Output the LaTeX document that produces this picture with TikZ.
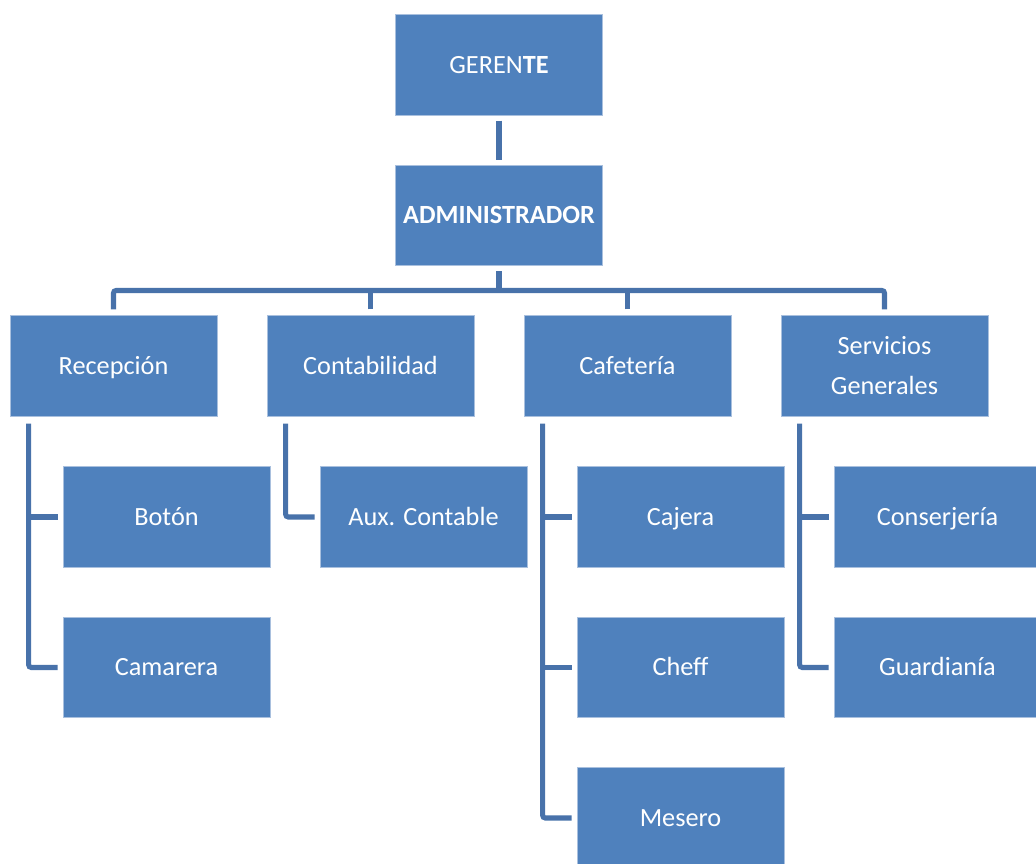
\documentclass[tikz,border=0pt]{standalone}
\usepackage{fontspec}
\setmainfont{Carlito}
\usetikzlibrary{calc}
\definecolor{boxblue}{HTML}{4F81BD}
\definecolor{edgeblue}{HTML}{A9C0DE}
\definecolor{lineblue}{HTML}{4872AA}
\tikzset{
  orgbox/.style={rectangle, fill=boxblue, draw=edgeblue, line width=0.5pt,
    minimum width=155.25pt, minimum height=75.3pt, inner sep=0pt,
    text=white, align=center, font=\fontsize{19.7}{30}\selectfont},
  oneline/.style={orgbox, text height=16.75pt, text depth=4.06pt},
  conn/.style={draw=lineblue, line width=3.8pt, rounded corners=2pt}
}
\begin{document}
\begin{tikzpicture}[x=0.75pt, y=-0.75pt]
\useasboundingbox (0,0) rectangle (1036,864);
\clip (0,0) rectangle (1036,864);
\fill[white] (0,0) rectangle (1036,864);
% top
\node[oneline] (ger) at (499,65) {GEREN\textbf{TE}};
\node[oneline] (adm) at (499,215.5) {\textbf{ADMINISTRADOR}};
% level 2
\node[oneline] (rec) at (113.5,366) {Recepción};
\node[oneline] (con) at (370.5,366) {Contabilidad};
\node[oneline] (caf) at (627.5,366) {Cafetería};
\node[orgbox] (srv) at (884.5,366) {Servicios\\Generales};
% level 3
\node[oneline] (bot) at (166.5,517) {Botón};
\node[oneline] (cam) at (166.5,667.5) {Camarera};
\node[oneline] (aux) at (423.5,517) {Aux. Contable};
\node[oneline] (caj) at (680.5,517) {Cajera};
\node[oneline] (che) at (680.5,667.5) {Cheff};
\node[oneline] (mes) at (680.5,818) {Mesero};
\node[oneline] (cns) at (937.5,517) {Conserjería};
\node[oneline] (gua) at (937.5,667.5) {Guardianía};
% connectors top
\draw[conn] ($(ger.south)+(0,5)$) -- ($(adm.north)+(0,-5)$);
\draw[conn] ($(adm.south)+(0,5)$) -- ++(0,20);
\draw[conn] ($(rec.north)+(0,-6)$) -- ++(0,-19) -| ($(srv.north)+(0,-6)$);
\draw[conn] ($(con.north)+(0,-6)$) -- ++(0,-19);
\draw[conn] ($(caf.north)+(0,-6)$) -- ++(0,-19);
% Recepcion
\draw[conn] ($(rec.south west)+(19,7)$) |- ($(cam.west)+(-5,0)$);
\draw[conn] ($(bot.west)+(-5,0)$) -- ++(-29,0);
% Contabilidad
\draw[conn] ($(con.south west)+(19,7)$) |- ($(aux.west)+(-5,0)$);
% Cafeteria
\draw[conn] ($(caf.south west)+(19,7)$) |- ($(mes.west)+(-5,0)$);
\draw[conn] ($(caj.west)+(-5,0)$) -- ++(-29,0);
\draw[conn] ($(che.west)+(-5,0)$) -- ++(-29,0);
% Servicios
\draw[conn] ($(srv.south west)+(19,7)$) |- ($(gua.west)+(-5,0)$);
\draw[conn] ($(cns.west)+(-5,0)$) -- ++(-29,0);
\end{tikzpicture}
\end{document}
